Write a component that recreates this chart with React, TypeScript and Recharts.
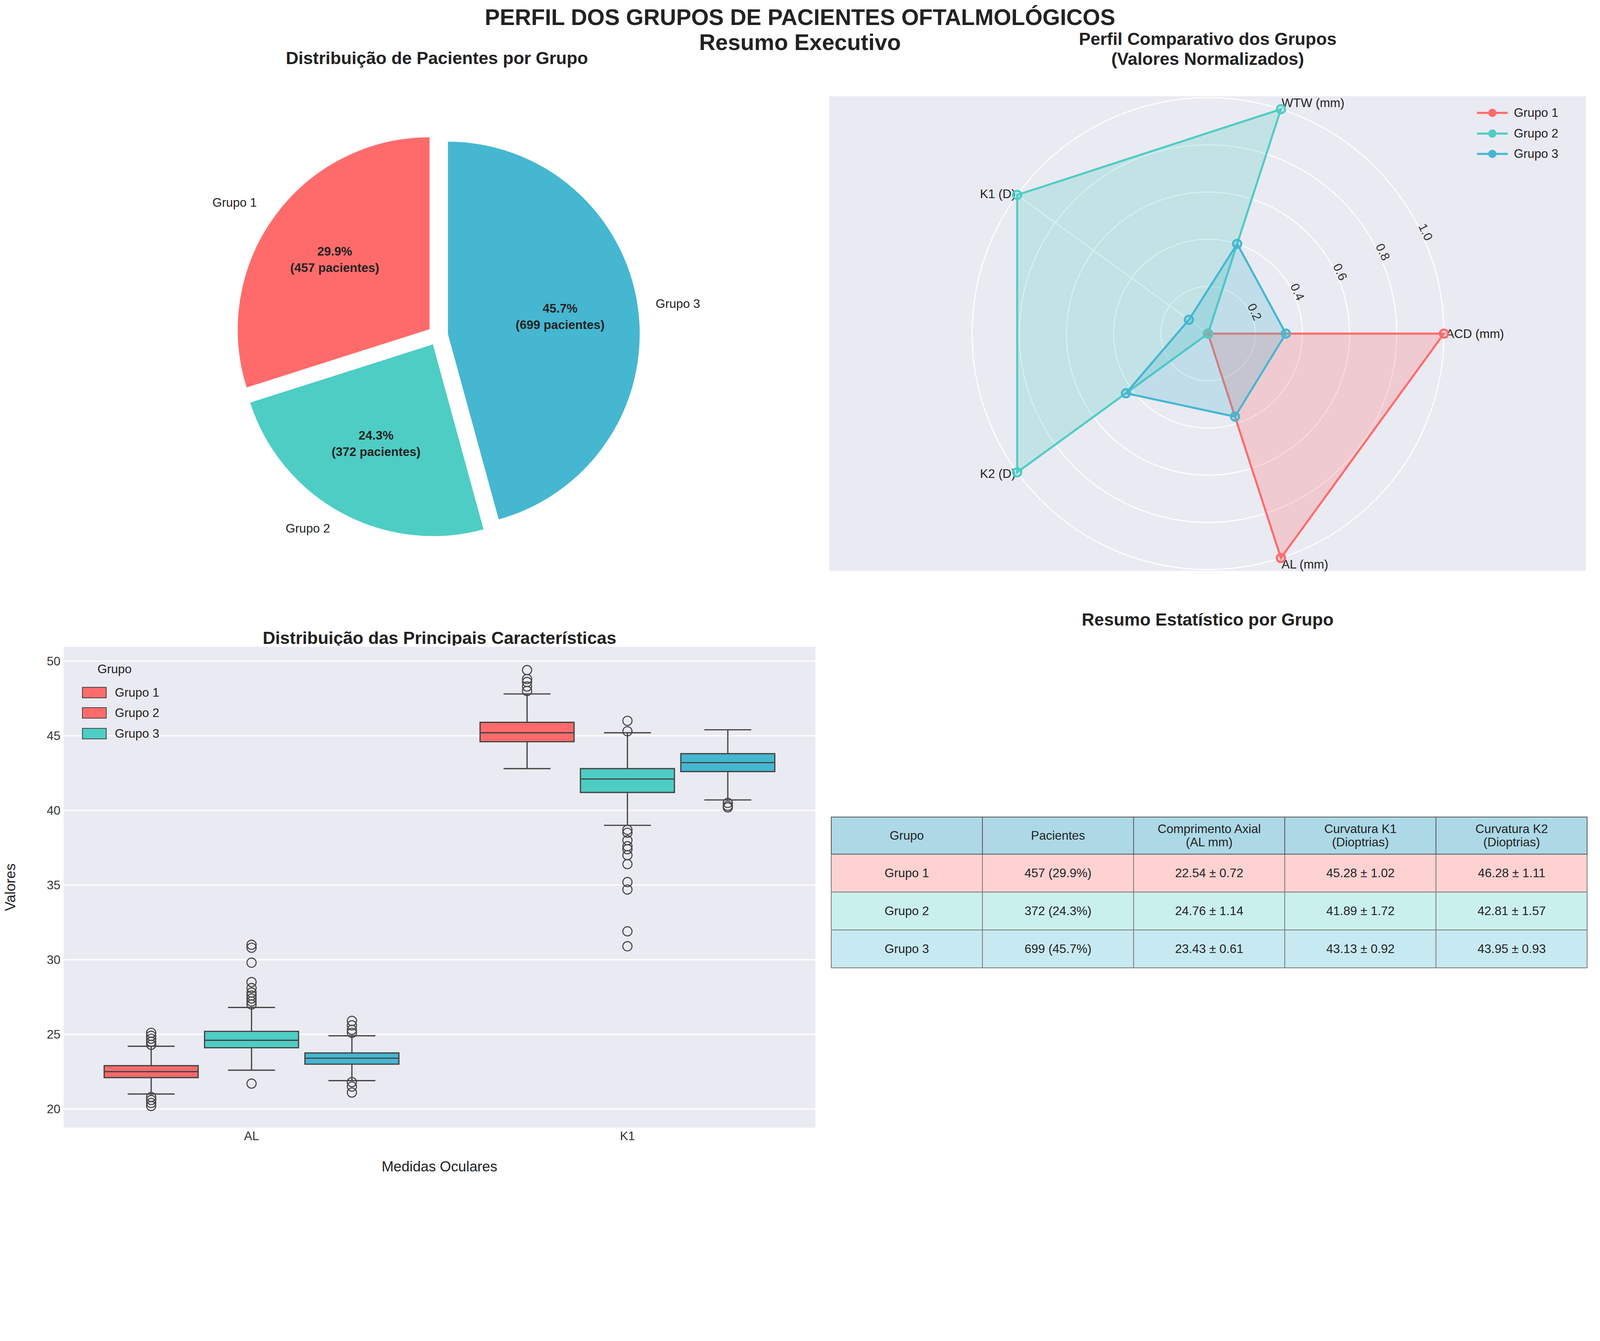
import React from 'react'
import {
  PieChart, Pie, Cell, RadarChart, Radar, PolarGrid, PolarAngleAxis, PolarRadiusAxis,
  LineChart, XAxis, YAxis, CartesianGrid, ComposedChart, Scatter, ReferenceArea, ReferenceLine,
} from 'recharts'

const VW = typeof window !== 'undefined' ? window.innerWidth : 4658
const S = VW / 1560
const p = (n: number) => n * S
const FONT = '"Liberation Sans", Arial, sans-serif'

const groups = ['Grupo 1', 'Grupo 2', 'Grupo 3']
const colors = ['#FF6B6B', '#4ECDC4', '#45B7D1']
const patients = [457, 372, 699]

const radarAxes = ['AL (mm)', 'ACD (mm)', 'WTW (mm)', 'K1 (D)', 'K2 (D)']
const radarG1 = [0, 0, 0, 1, 1]
const radarG2 = [1, 1, 1, 0, 0]
const radarG3 = [0.4, 0.1, 0.43, 0.37, 0.33]

const measures = ['AL', 'K1']
// [whiskLo, q1, median, q3, whiskHi] per measure, per group
const boxStats = [
  [[21.0, 22.1, 22.5, 22.9, 24.2], [22.6, 24.1, 24.6, 25.2, 26.8], [21.9, 23.0, 23.4, 23.75, 24.9]],
  [[42.8, 44.6, 45.2, 45.9, 47.8], [39.0, 41.2, 42.1, 42.8, 45.2], [40.7, 42.6, 43.2, 43.8, 45.4]],
]
const outliers = [
  [[24.3, 24.5, 24.7, 24.9, 25.1, 20.2, 20.4, 20.6, 20.8],
   [27.0, 27.2, 27.4, 27.6, 27.8, 28.1, 28.5, 29.8, 30.8, 31.0, 21.7],
   [25.1, 25.3, 25.6, 25.9, 21.1, 21.5, 21.8]],
  [[48.0, 48.3, 48.6, 48.8, 49.4],
   [45.3, 46.0, 38.7, 38.5, 38.0, 37.6, 37.4, 37.0, 36.4, 35.2, 34.7, 31.9, 30.9],
   [40.5, 40.3, 40.2]],
]
const boxLegendColors = ['#FF6B6B', '#FF6B6B', '#4ECDC4']

const tableHead = ['Grupo', 'Pacientes', 'Comprimento Axial\n(AL mm)', 'Curvatura K1\n(Dioptrias)', 'Curvatura K2\n(Dioptrias)']
const tableRows = [
  ['Grupo 1', '457 (29.9%)', '22.54 ± 0.72', '45.28 ± 1.02', '46.28 ± 1.11'],
  ['Grupo 2', '372 (24.3%)', '24.76 ± 1.14', '41.89 ± 1.72', '42.81 ± 1.57'],
  ['Grupo 3', '699 (45.7%)', '23.43 ± 0.61', '43.13 ± 0.92', '43.95 ± 0.93'],
]
const rowColors = ['#FFD2D2', '#CAF0ED', '#C7E9F1']

const RAD = Math.PI / 180
const total = patients.reduce((a, b) => a + b, 0)
const offsets = [-0.267, 0, 0.267]
const halfW = 0.125

const Title = ({ x, y, w, text }: { x: number; y: number; w: number; text: string }) => (
  <div style={{ position: 'absolute', left: p(x), top: p(y), width: p(w), textAlign: 'center', fontWeight: 'bold', fontSize: p(17), color: '#222', lineHeight: 1.15, whiteSpace: 'pre' }}>{text}</div>
)

const tick = { fill: '#333', fontSize: p(12), fontFamily: FONT }

export default function App() {
  const pieCx = p(425), pieCy = p(325 - 50), pieR = p(188)
  let cum = 0
  const slices = patients.map((v, i) => {
    const start = 90 + (360 * cum) / total
    cum += v
    const end = 90 + (360 * cum) / total
    const mid = (start + end) / 2
    return { v, i, start, end, mid }
  })

  const radarData = radarAxes.map((a, i) => ({ axis: a, g1: radarG1[i], g2: radarG2[i], g3: radarG3[i] }))

  const outlierPts = outliers.flatMap((m, mi) => m.flatMap((g, gi) => g.map((y) => ({ x: mi + offsets[gi], y }))))

  return (
    <div style={{ position: 'fixed', left: 0, top: 0, width: p(1560), height: p(1150), background: '#fff', fontFamily: FONT, overflow: 'hidden' }}>
      <div style={{ position: 'absolute', left: 0, top: p(5), width: p(1560), textAlign: 'center', fontWeight: 'bold', fontSize: p(22), color: '#222', lineHeight: 1.1 }}>
        PERFIL DOS GRUPOS DE PACIENTES OFTALMOLÓGICOS<br />Resumo Executivo
      </div>

      {/* Pie */}
      <Title x={0} y={47} w={852} text="Distribuição de Pacientes por Grupo" />
      <div style={{ position: 'absolute', left: 0, top: p(50) }}>
        <PieChart width={p(800)} height={p(560)}>
          {slices.map((s) => {
            const off = 0.05 * pieR
            const cx = pieCx + off * Math.cos(s.mid * RAD)
            const cy = pieCy - off * Math.sin(s.mid * RAD)
            return (
              <Pie key={s.i} data={[{ name: groups[s.i], value: s.v }]} dataKey="value" cx={cx} cy={cy}
                outerRadius={pieR} startAngle={s.start} endAngle={s.end} stroke="#fff" strokeWidth={p(1)}
                isAnimationActive={false} labelLine={false}
                label={() => {
                  const c = Math.cos(s.mid * RAD), sn = Math.sin(s.mid * RAD)
                  const ox = cx + pieR * 1.1 * c, oy = cy - pieR * 1.1 * sn
                  const ix = cx + pieR * 0.6 * c, iy = cy - pieR * 0.6 * sn
                  return (
                    <g>
                      <text x={ox} y={oy} textAnchor={c < 0 ? 'end' : 'start'} dominantBaseline="central" fontSize={p(12)} fill="#222" fontFamily={FONT}>{groups[s.i]}</text>
                      <text x={ix} y={iy - p(8)} textAnchor="middle" dominantBaseline="central" fontSize={p(12)} fontWeight="bold" fill="#222" fontFamily={FONT}>{((100 * s.v) / total).toFixed(1)}%</text>
                      <text x={ix} y={iy + p(8)} textAnchor="middle" dominantBaseline="central" fontSize={p(12)} fontWeight="bold" fill="#222" fontFamily={FONT}>({s.v} pacientes)</text>
                    </g>
                  )
                }}>
                <Cell fill={colors[s.i]} />
              </Pie>
            )
          })}
        </PieChart>
      </div>

      {/* Radar */}
      <Title x={808} y={28} w={739} text={'Perfil Comparativo dos Grupos\n(Valores Normalizados)'} />
      <div style={{ position: 'absolute', left: p(760), top: p(60) }}>
        <LineChart width={p(800)} height={p(540)} data={[]} margin={{ top: p(33), right: p(13), left: 0, bottom: 0 }}>
          <CartesianGrid fill="#EAEAF2" stroke="#fff" strokeWidth={p(1.2)} />
          <XAxis type="number" dataKey="x" domain={[0, 1]} ticks={[0, 0.2, 0.4, 0.6, 0.8, 1]} tickFormatter={(v) => v.toFixed(1)} height={p(43)} tick={tick} axisLine={false} tickLine={false} tickMargin={p(4)} />
          <YAxis type="number" domain={[0, 1]} ticks={[0, 0.2, 0.4, 0.6, 0.8, 1]} tickFormatter={(v) => v.toFixed(1)} width={p(48)} tick={tick} axisLine={false} tickLine={false} />
        </LineChart>
      </div>
      <div style={{ position: 'absolute', left: p(760), top: p(60) }}>
        <RadarChart width={p(800)} height={p(540)} data={radarData} cx={p(1178 - 760)} cy={p(325 - 60)} outerRadius={p(230)} startAngle={0} endAngle={360}>
          <PolarGrid gridType="circle" stroke="#fff" strokeWidth={p(1)} />
          <PolarAngleAxis dataKey="axis" tick={{ ...tick, fill: '#222' }} axisLine={false} tickLine={false} tickSize={p(2)} />
          <PolarRadiusAxis angle={25} domain={[0, 1]} ticks={[0.2, 0.4, 0.6, 0.8, 1.0]} tickFormatter={(v) => v.toFixed(1)} tick={tick} axisLine={false} tickLine={false} orientation="middle" />
          {['g1', 'g2', 'g3'].map((k, i) => (
            <Radar key={k} dataKey={k} stroke={colors[i]} fill={colors[i]} fillOpacity={0.25} strokeWidth={p(2)}
              dot={{ r: p(4), fill: colors[i], stroke: colors[i] }} isAnimationActive={false} />
          ))}
        </RadarChart>
      </div>
      <div style={{ position: 'absolute', left: p(1440), top: p(100), fontSize: p(12), color: '#222' }}>
        {groups.map((g, i) => (
          <div key={g} style={{ display: 'flex', alignItems: 'center', height: p(20) }}>
            <svg width={p(30)} height={p(12)}>
              <line x1={0} y1={p(6)} x2={p(30)} y2={p(6)} stroke={colors[i]} strokeWidth={p(2)} />
              <circle cx={p(15)} cy={p(6)} r={p(4)} fill={colors[i]} />
            </svg>
            <span style={{ marginLeft: p(6) }}>{g}</span>
          </div>
        ))}
      </div>

      {/* Boxplot */}
      <Title x={62} y={612} w={733} text="Distribuição das Principais Características" />
      <div style={{ position: 'absolute', left: 0, top: p(600) }}>
        <ComposedChart width={p(800)} height={p(550)} margin={{ top: p(30), right: p(5), left: 0, bottom: 0 }}>
          <CartesianGrid fill="#EAEAF2" stroke="#fff" strokeWidth={p(1.2)} vertical={false} />
          <XAxis type="number" dataKey="x" domain={[-0.5, 1.5]} ticks={[0, 1]} tickFormatter={(v) => measures[v]} height={p(50)} tick={tick} axisLine={false} tickLine={false} allowDataOverflow
            label={{ value: 'Medidas Oculares', position: 'insideBottom', offset: p(8), fill: '#222', fontSize: p(14), fontFamily: FONT }} />
          <YAxis type="number" dataKey="y" domain={[18.7, 51]} ticks={[20, 25, 30, 35, 40, 45, 50]} width={p(62)} tick={tick} axisLine={false} tickLine={false} allowDataOverflow
            label={{ value: 'Valores', angle: -90, position: 'insideLeft', offset: p(10), fill: '#222', fontSize: p(14), fontFamily: FONT, style: { textAnchor: 'middle' } }} />
          {boxStats.map((m, mi) => m.map((b, gi) => {
            const c = mi + offsets[gi]
            const st = { stroke: '#444', strokeWidth: p(1.2) }
            return (
              <React.Fragment key={`${mi}-${gi}`}>
                <ReferenceLine segment={[{ x: c, y: b[0] }, { x: c, y: b[1] }]} {...st} />
                <ReferenceLine segment={[{ x: c, y: b[3] }, { x: c, y: b[4] }]} {...st} />
                <ReferenceLine segment={[{ x: c - halfW / 2, y: b[0] }, { x: c + halfW / 2, y: b[0] }]} {...st} />
                <ReferenceLine segment={[{ x: c - halfW / 2, y: b[4] }, { x: c + halfW / 2, y: b[4] }]} {...st} />
                <ReferenceArea x1={c - halfW} x2={c + halfW} y1={b[1]} y2={b[3]} fill={colors[gi]} fillOpacity={1} {...st} />
                <ReferenceLine segment={[{ x: c - halfW, y: b[2] }, { x: c + halfW, y: b[2] }]} {...st} />
              </React.Fragment>
            )
          }))}
          <Scatter data={outlierPts} isAnimationActive={false}
            shape={(pr: any) => <circle cx={pr.cx} cy={pr.cy} r={p(4.5)} fill="none" stroke="#444" strokeWidth={p(1)} />} />
        </ComposedChart>
      </div>
      <div style={{ position: 'absolute', left: p(80), top: p(645), fontSize: p(12), color: '#222' }}>
        <div style={{ marginLeft: p(15), height: p(20) }}>Grupo</div>
        {groups.map((g, i) => (
          <div key={g} style={{ display: 'flex', alignItems: 'center', height: p(20) }}>
            <div style={{ width: p(24), height: p(11), background: boxLegendColors[i], border: `${p(1)}px solid #444`, boxSizing: 'border-box' }} />
            <span style={{ marginLeft: p(8) }}>{g}</span>
          </div>
        ))}
      </div>

      {/* Table */}
      <Title x={808} y={594} w={739} text="Resumo Estatístico por Grupo" />
      <table style={{ position: 'absolute', left: p(810), top: p(796), width: p(738), borderCollapse: 'collapse', fontSize: p(12), color: '#222', tableLayout: 'fixed' }}>
        <tbody>
          <tr style={{ height: p(36), background: '#ADD8E6' }}>
            {tableHead.map((h) => (
              <td key={h} style={{ border: `${p(0.8)}px solid #555`, textAlign: 'center', whiteSpace: 'pre', lineHeight: 1.1, padding: 0 }}>{h}</td>
            ))}
          </tr>
          {tableRows.map((r, ri) => (
            <tr key={ri} style={{ height: p(37), background: rowColors[ri] }}>
              {r.map((c, ci) => (
                <td key={ci} style={{ border: `${p(0.8)}px solid #777`, textAlign: 'center', padding: 0 }}>{c}</td>
              ))}
            </tr>
          ))}
        </tbody>
      </table>
    </div>
  )
}
